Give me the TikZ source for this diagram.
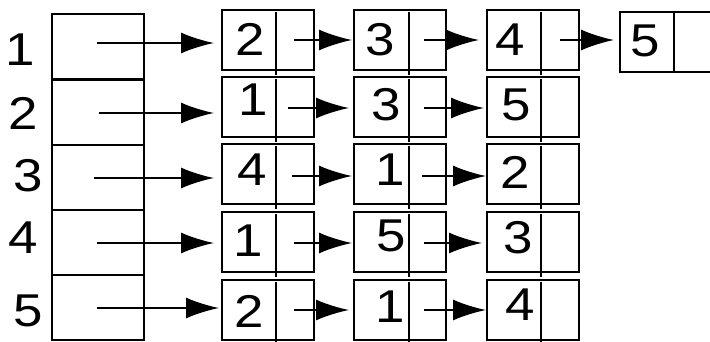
\documentclass[tikz,border=0pt]{standalone}
\usepackage{fontspec}
\setmainfont{Liberation Sans}[FakeStretch=1.15]
\usetikzlibrary{arrows.meta}
\begin{document}
\begin{tikzpicture}[x=1pt,y=-1pt,line width=2pt,
  slot/.style={draw, rectangle, minimum width=92pt, minimum height=65pt, inner sep=0pt},
  cellbox/.style={draw, rectangle, minimum width=92pt, minimum height=60pt, inner sep=0pt},
  digit/.style={font=\fontsize{46}{46}\selectfont, inner sep=0pt},
  ptr/.style={-{Latex[length=33pt,width=21pt]}},
]
\clip (0,0) rectangle (710,341);

% index array
\node[slot] (a1) at (98,46.5) {};
\node[slot] (a2) at (98,112) {};
\node[slot] (a3) at (98,177.5) {};
\node[slot] (a4) at (98,242.5) {};
\node[slot] (a5) at (98,307.5) {};

% index labels
\node[digit] (l1) at (20,50) {1};
\node[digit] (l2) at (23,113) {2};
\node[digit] (l3) at (28,176) {3};
\node[digit] (l4) at (23,238) {4};
\node[digit] (l5) at (28,311) {5};

% list cells
\node[cellbox] (c11) at (268,40) {};
\node[cellbox] (c12) at (400,40) {};
\node[cellbox] (c13) at (533,40) {};
\node[cellbox] (c14) at (666,42) {};
\node[cellbox] (c21) at (268,107) {};
\node[cellbox] (c22) at (400,107) {};
\node[cellbox] (c23) at (533,107) {};
\node[cellbox] (c31) at (268,174) {};
\node[cellbox] (c32) at (400,174) {};
\node[cellbox] (c33) at (533,174) {};
\node[cellbox] (c41) at (268,242) {};
\node[cellbox] (c42) at (400,242) {};
\node[cellbox] (c43) at (533,242) {};
\node[cellbox] (c51) at (268,310) {};
\node[cellbox] (c52) at (400,310) {};
\node[cellbox] (c53) at (533,310) {};

% dividers between value and link fields
\foreach \c/\dx in {c11/55,c12/56,c13/55,c21/55,c22/56,c23/55,c31/55,c32/56,c33/55,
                    c41/55,c42/56,c43/55,c51/55,c52/56,c53/55}
  \draw ([shift={(\dx,3)}]\c.north west) -- ([shift={(\dx,4)}]\c.south west);
\draw ([shift={(55,0)}]c14.north west) -- ([shift={(55,0)}]c14.south west);

% cell values
\node[digit] (d11) at (250,39) {2};
\node[digit] (d12) at (380,40) {3};
\node[digit] (d13) at (510,40) {4};
\node[digit] (d14) at (645,41) {5};
\node[digit] (d21) at (253,100) {1};
\node[digit] (d22) at (386,105) {3};
\node[digit] (d23) at (516,105) {5};
\node[digit] (d31) at (252,170) {4};
\node[digit] (d32) at (390,170) {1};
\node[digit] (d33) at (515,172) {2};
\node[digit] (d41) at (248,241) {1};
\node[digit] (d42) at (391,236) {5};
\node[digit] (d43) at (518,238) {3};
\node[digit] (d51) at (249,311) {2};
\node[digit] (d52) at (390,307) {1};
\node[digit] (d53) at (520,305) {4};

% pointer origins in the index array
\coordinate (p1) at (97,43);
\coordinate (p2) at (99,113);
\coordinate (p3) at (94,178);
\coordinate (p4) at (97,243);
\coordinate (p5) at (97,308);

\draw[ptr, shorten >=7pt] (p1) -- (p1 -| c11.west);
\draw[ptr, shorten >=7pt] (p2) -- (p2 -| c21.west);
\draw[ptr, shorten >=7pt] (p3) -- (p3 -| c31.west);
\draw[ptr, shorten >=7pt] (p4) -- (p4 -| c41.west);
\draw[ptr, shorten >=2pt] (p5) -- (p5 -| c51.west);

% link-field pointer origins
\coordinate (q11) at (294,40);
\coordinate (q12) at (424,40);
\coordinate (q13) at (560,40);
\coordinate (q21) at (288,108);
\coordinate (q22) at (424,108);
\coordinate (q31) at (292,176);
\coordinate (q32) at (422,176);
\coordinate (q41) at (294,243);
\coordinate (q42) at (424,243);
\coordinate (q51) at (294,310);
\coordinate (q52) at (424,310);

\draw[ptr, shorten >=1pt] (q11) -- (q11 -| c12.west);
\draw[ptr, shorten >=7pt] (q12) -- (q12 -| c13.west);
\draw[ptr, shorten >=5pt] (q13) -- (q13 -| c14.west);
\draw[ptr, shorten >=4pt] (q21) -- (q21 -| c22.west);
\draw[ptr, shorten >=2pt] (q22) -- (q22 -| c23.west);
\draw[ptr, shorten >=1pt] (q31) -- (q31 -| c32.west);
\draw[ptr, shorten >=0pt] (q32) -- (q32 -| c33.west);
\draw[ptr, shorten >=1pt] (q41) -- (q41 -| c42.west);
\draw[ptr, shorten >=4pt] (q42) -- (q42 -| c43.west);
\draw[ptr, shorten >=4pt] (q51) -- (q51 -| c52.west);
\draw[ptr, shorten >=0pt] (q52) -- (q52 -| c53.west);
\end{tikzpicture}
\end{document}
